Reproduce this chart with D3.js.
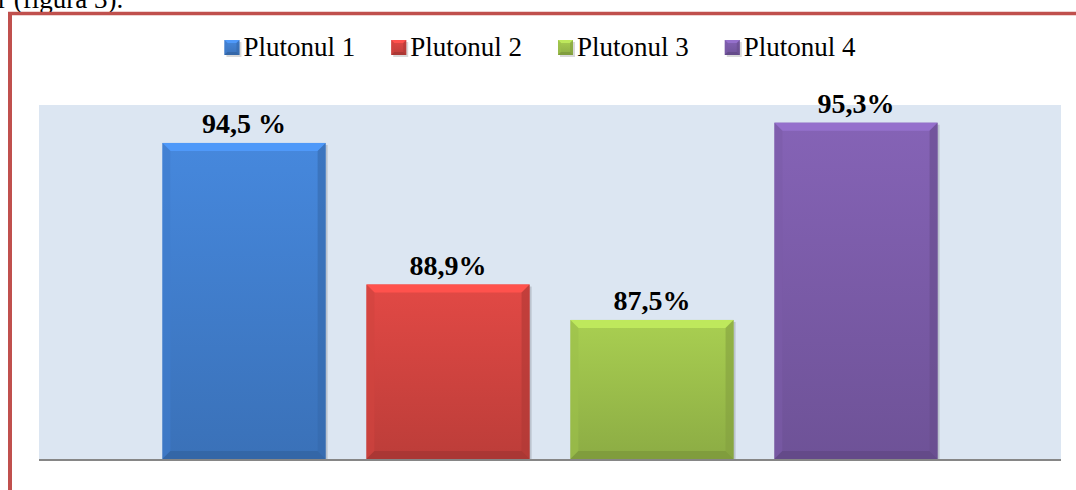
<!DOCTYPE html>
<meta charset="utf-8">
<style>
body { margin: 0; background: #fff; }
text { font-family: "Liberation Serif", "Times New Roman", serif; }
</style>
<body>
<script src="https://cdn.jsdelivr.net/npm/d3@7"></script>
<script>

var series = ["Plutonul 1", "Plutonul 2", "Plutonul 3", "Plutonul 4"];
var values = [94.5, 88.9, 87.5, 95.3];
var labels = ["94,5 %", "88,9%", "87,5%", "95,3%"];
var colors = ["#4382d4", "#d94642", "#a2c64e", "#7f5fae"];

var width = 1076,
    height = 490;

var plot = {left: 39, right: 1061, top: 105, bottom: 459};

var svg = d3.select("body").append("svg")
    .attr("width", width)
    .attr("height", height);

// caption text cut at top of the page (as in the source document)
svg.append("text")
    .attr("x", -2)
    .attr("y", 8)
    .style("font-size", "27px")
    .text("r (figura 3).");

// red frame
svg.append("line")
    .attr("x1", 8).attr("x2", width)
    .attr("y1", 13.5).attr("y2", 13.5)
    .attr("stroke", "#c0504d").attr("stroke-width", 3.5);
svg.append("line")
    .attr("x1", 10).attr("x2", 10)
    .attr("y1", 12).attr("y2", height)
    .attr("stroke", "#c0504d").attr("stroke-width", 4);

var x = d3.scaleBand()
    .domain(series)
    .range([plot.left, plot.right])
    .paddingInner(0.2)
    .paddingOuter(0.605);

var y = d3.scaleLinear()
    .domain([82, 96])
    .range([plot.bottom, plot.top]);

svg.append("rect")
    .attr("x", plot.left)
    .attr("y", plot.top)
    .attr("width", plot.right - plot.left)
    .attr("height", plot.bottom - plot.top)
    .attr("fill", "#dce6f2");

var defs = svg.append("defs");
colors.forEach(function(c, i) {
  var g = defs.append("linearGradient")
      .attr("id", "grad" + i)
      .attr("x1", 0).attr("x2", 0).attr("y1", 0).attr("y2", 1);
  g.append("stop").attr("offset", "0%").attr("stop-color", d3.color(c).brighter(0.12));
  g.append("stop").attr("offset", "100%").attr("stop-color", d3.color(c).darker(0.4));
});

// bevelled bar
function bevel(sel, x0, y0, w, h, i, b) {
  var c = d3.color(colors[i]);
  var x1 = x0 + w, y1 = y0 + h;
  sel.append("rect")
      .attr("x", x0 + 2).attr("y", y0 + 2)
      .attr("width", w).attr("height", h)
      .attr("fill", "#000").attr("opacity", 0.15);
  sel.append("rect")
      .attr("x", x0).attr("y", y0)
      .attr("width", w).attr("height", h)
      .attr("fill", "url(#grad" + i + ")");
  sel.append("polygon")
      .attr("points", [[x0, y0], [x1, y0], [x1 - b, y0 + b], [x0 + b, y0 + b]].join(" "))
      .attr("fill", c.brighter(0.45));
  sel.append("polygon")
      .attr("points", [[x0, y0], [x0 + b, y0 + b], [x0 + b, y1 - b], [x0, y1]].join(" "))
      .attr("fill", c.darker(0.1)).attr("opacity", 0.6);
  sel.append("polygon")
      .attr("points", [[x1, y0], [x1, y1], [x1 - b, y1 - b], [x1 - b, y0 + b]].join(" "))
      .attr("fill", c.darker(0.6)).attr("opacity", 0.6);
  sel.append("polygon")
      .attr("points", [[x0, y1], [x0 + b, y1 - b], [x1 - b, y1 - b], [x1, y1]].join(" "))
      .attr("fill", c.darker(0.8)).attr("opacity", 0.7);
}

series.forEach(function(s, i) {
  var g = svg.append("g");
  bevel(g, x(s), y(values[i]), x.bandwidth(), y(82) - y(values[i]), i, 8);
  svg.append("text")
      .attr("x", x(s) + x.bandwidth() / 2)
      .attr("y", y(values[i]) - 10)
      .attr("text-anchor", "middle")
      .style("font-size", "28px")
      .style("font-weight", "bold")
      .text(labels[i]);
});

// axis line
svg.append("line")
    .attr("x1", plot.left).attr("x2", plot.right)
    .attr("y1", plot.bottom + 1).attr("y2", plot.bottom + 1)
    .attr("stroke", "#868686").attr("stroke-width", 2);

// legend
var legend = svg.append("g");
var lx = 0;
series.forEach(function(s, i) {
  var item = legend.append("g").attr("transform", "translate(" + lx + ",0)");
  bevel(item, 0, 40, 15, 15, i, 3);
  var t = item.append("text")
      .attr("x", 19)
      .attr("y", 56)
      .style("font-size", "27px")
      .text(s);
  lx += 19 + t.node().getComputedTextLength() + 36;
});
lx -= 36;
legend.attr("transform", "translate(" + (540 - lx / 2) + ",0)");

</script>
</body>
